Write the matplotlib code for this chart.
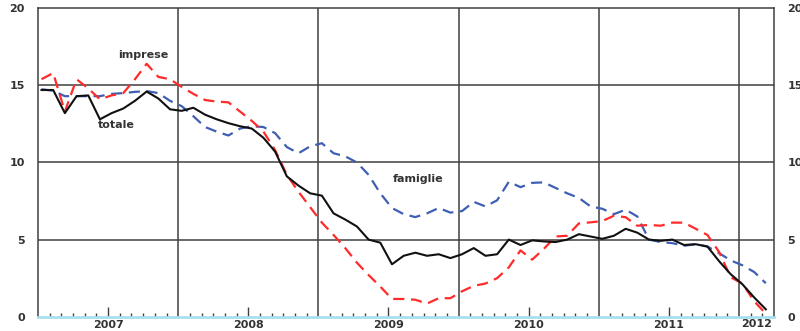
import numpy as np
import matplotlib
matplotlib.use("Agg")
import matplotlib.pyplot as plt
import matplotlib.transforms as mtransforms

# Monthly series, January 2007 - March 2012 (percent)
totale = [14.7, 14.7, 13.2, 14.3, 14.35, 12.8, 13.2, 13.5, 14.0, 14.6,
          14.15, 13.45, 13.35, 13.55, 13.1, 12.8, 12.55, 12.35, 12.2, 11.6,
          10.7, 9.1, 8.5, 8.0, 7.85, 6.7, 6.3, 5.85, 5.0, 4.8,
          3.4, 3.95, 4.15, 3.95, 4.05, 3.8, 4.05, 4.45, 3.95, 4.05,
          5.0, 4.65, 4.95, 4.88, 4.84, 5.0, 5.35, 5.2, 5.05, 5.25,
          5.7, 5.45, 5.0, 4.92, 5.0, 4.65, 4.7, 4.55, 3.6, 2.75,
          2.1, 1.25, 0.48]

imprese = [15.4, 15.8, 13.3, 15.4, 14.8, 14.1, 14.35, 14.5, 15.4, 16.4,
           15.55, 15.4, 14.9, 14.45, 14.05, 13.95, 13.9, 13.3, 12.7, 12.0,
           10.8, 9.2, 8.1, 7.1, 6.1, 5.3, 4.45, 3.5, 2.7, 1.95,
           1.15, 1.15, 1.1, 0.85, 1.2, 1.2, 1.65, 2.0, 2.15, 2.5,
           3.2, 4.3, 3.7, 4.4, 5.2, 5.25, 6.05, 6.12, 6.2, 6.55,
           6.45, 5.9, 5.95, 5.9, 6.1, 6.1, 5.7, 5.3, 4.2, 2.55,
           2.15, 1.0, 0.2]

famiglie = [14.75, 14.65, 14.3, 14.3, 14.3, 14.3, 14.45, 14.5, 14.58, 14.63,
            14.5, 14.0, 13.65, 13.0, 12.3, 12.0, 11.75, 12.2, 12.35, 12.3,
            11.9, 11.0, 10.6, 11.05, 11.25, 10.6, 10.4, 10.0, 9.2, 8.0,
            7.05, 6.65, 6.46, 6.7, 7.05, 6.75, 6.85, 7.45, 7.15, 7.55,
            8.75, 8.4, 8.68, 8.71, 8.35, 8.0, 7.7, 7.15, 7.0, 6.65,
            6.94, 6.5, 5.0, 4.84, 4.77, 4.6, 4.7, 4.55, 4.12, 3.65,
            3.33, 2.9, 2.17]

years = ["2007", "2008", "2009", "2010", "2011", "2012"]
yticks = [0, 5, 10, 15, 20]

# x in months since January 2007, each observation placed inside its month
months = np.arange(len(totale)) + 0.3

plt.rcParams["font.family"] = ["DejaVu Sans"]
txt_color = "#333333"
grid_color = "#404040"

fig = plt.figure(figsize=(8.0, 3.31), dpi=100)
ax = fig.add_axes([0.0475, 0.0432, 0.92, 0.9318])

ax.set_xlim(0, 63)
ax.set_ylim(0, 20)

# grid: horizontal levels and year boundaries
for y in (5, 10, 15):
    ax.axhline(y, color=grid_color, lw=1.1, zorder=1)
for yr in range(1, 6):
    ax.axvline(12 * yr, color=grid_color, lw=1.1, zorder=1)

ax.plot(months, famiglie, color="#3f5fb4", lw=1.6, dashes=(5, 3), zorder=3)
ax.plot(months, imprese, color="#ff2b2b", lw=1.6, dashes=(5, 3), zorder=3)
ax.plot(months, totale, color="#111111", lw=1.5, zorder=4)

# spines
for side in ("left", "right", "top"):
    ax.spines[side].set_color(grid_color)
    ax.spines[side].set_linewidth(1.1)
ax.spines["bottom"].set_color("#a6e0ee")
ax.spines["bottom"].set_linewidth(2.0)

# y axis labels on both sides
ax.set_yticks(yticks)
ax.set_yticklabels([str(v) for v in yticks])
ax.tick_params(axis="y", which="both", length=0, pad=9.5,
               labelsize=8, labelcolor=txt_color,
               labelleft=True, labelright=True)
for t in ax.yaxis.get_major_ticks():
    t.label1.set_fontweight("bold")
    t.label2.set_fontweight("bold")

# x axis: monthly ticks, long tick and year label at mid-year
mid_years = [6, 18, 30, 42, 54]
ax.set_xticks(mid_years)
ax.set_xticklabels(years[:5])
minor = [m for m in range(1, 63) if m % 12 != 0 and m % 12 != 6]
ax.set_xticks(minor, minor=True)
ax.tick_params(axis="x", which="major", direction="in", length=7.5,
               width=1.0, color=grid_color, pad=2.5, labelsize=8,
               labelcolor=txt_color)
ax.tick_params(axis="x", which="minor", direction="in", length=3.2,
               width=1.0, color=grid_color)
plt.setp(ax.xaxis.get_ticklabels(), fontweight="bold")

trans = mtransforms.blended_transform_factory(ax.transData, ax.transAxes)
ax.text((60 + 63) / 2, -0.0085, years[5], transform=trans, ha="center",
        va="top", fontsize=8, fontweight="bold", color=txt_color)

# series labels
ax.text(9.0, 17.0, "imprese", ha="center", va="center", fontsize=8,
        fontweight="bold", color=txt_color)
ax.text(6.7, 12.45, "totale", ha="center", va="center", fontsize=8,
        fontweight="bold", color=txt_color)
ax.text(32.5, 8.9, "famiglie", ha="center", va="center", fontsize=8,
        fontweight="bold", color=txt_color)

fig.savefig("out.png", dpi=100)
